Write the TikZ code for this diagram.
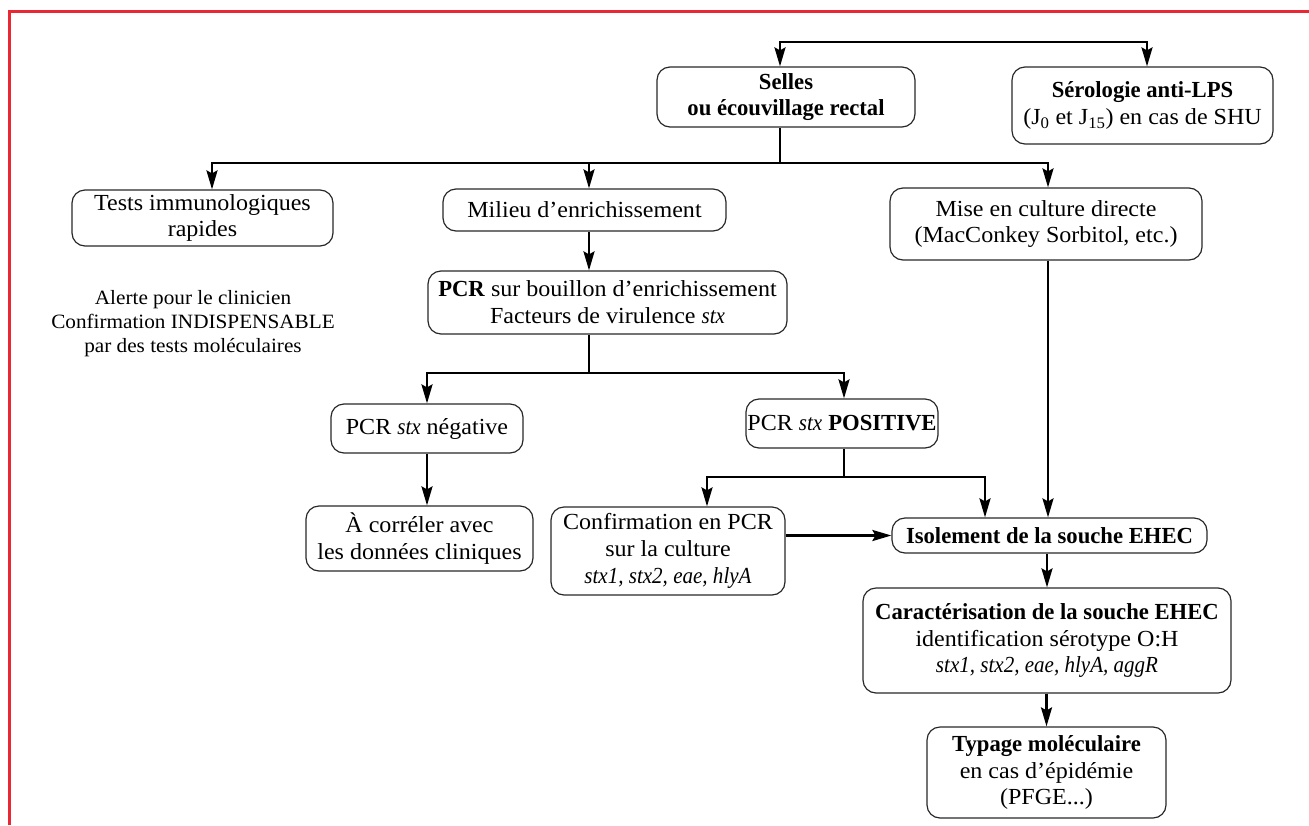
\documentclass[tikz,border=0pt]{standalone}
\usepackage{fontspec}
\setmainfont{Liberation Serif}[
  UprightFeatures={FakeStretch=1.045},
  BoldFeatures={FakeStretch=0.985},
  ItalicFeatures={FakeStretch=0.915}]
\usetikzlibrary{arrows.meta}
\definecolor{framered}{RGB}{234,40,52}
\definecolor{boxline}{RGB}{40,40,40}
\tikzset{
  box/.style={draw=boxline, line width=1.2pt, rounded corners=13pt, align=center, inner sep=0pt,
    font=\fontsize{23}{26.8}\selectfont},
  plain/.style={align=center, inner sep=0pt, font=\fontsize{20.3}{24}\selectfont},
  conn/.style={line width=2.4pt, line join=miter},
  arr/.style={conn, -{Stealth[length=19pt,width=11pt,inset=3pt]}},
  redframe/.style={draw=framered, line width=3pt}
}
\begin{document}
\begin{tikzpicture}[x=1pt,y=-1pt]
\useasboundingbox (0,0) rectangle (1309,825);
\draw[redframe] (9.5,825) -- (9.5,11.5) -- (1309,11.5);

\node[box, minimum width=258pt, minimum height=60pt] (selles) at (786,97) {\textbf{Selles}\\\textbf{ou écouvillage rectal}};
\node[box, minimum width=261pt, minimum height=77pt] (sero) at (1142.5,105.5) {\textbf{Sérologie anti-LPS}\\(J\textsubscript{0} et J\textsubscript{15}) en cas de SHU};
\node[box, minimum width=261pt, minimum height=56pt] (tests) at (202.5,218) {Tests immunologiques\\rapides};
\node[box, minimum width=283pt, minimum height=42pt] (milieu) at (584.5,210) {Milieu d’enrichissement};
\node[box, minimum width=359pt, minimum height=63pt] (pcrb) at (607.5,302.5) {\textbf{PCR} sur bouillon d’enrichissement\\Facteurs de virulence \textit{stx}};
\node[box, minimum width=312pt, minimum height=72pt] (mise) at (1046,224) {Mise en culture directe\\(MacConkey Sorbitol, etc.)};
\node[plain] (alerte) at (193,324) {Alerte pour le clinicien\\Confirmation INDISPENSABLE\\par des tests moléculaires};
\node[box, minimum width=192pt, minimum height=49pt] (neg) at (427,428.5) {PCR \textit{stx} négative};
\node[box, minimum width=192pt, minimum height=49pt] (pos) at (842,423.5) {PCR \textit{stx} \textbf{POSITIVE}};
\node[box, minimum width=227pt, minimum height=65pt] (corr) at (419.5,538.5) {À corréler avec\\les données cliniques};
\node[box, minimum width=234pt, minimum height=88pt] (conf) at (668,551) {Confirmation en PCR\\sur la culture\\\textit{stx1, stx2, eae, hlyA}};
\node[box, minimum width=315pt, minimum height=35pt] (iso) at (1049.5,535.5) {\textbf{Isolement de la souche EHEC}};
\node[box, minimum width=368pt, minimum height=105pt] (cara) at (1047,640.5) {\textbf{Caractérisation de la souche EHEC}\\identification sérotype O:H\\\textit{stx1, stx2, eae, hlyA, aggR}};
\node[box, minimum width=239pt, minimum height=91pt] (typ) at (1046.5,772.5) {\textbf{Typage moléculaire}\\en cas d’épidémie\\(PFGE...)};

% top bracket
\coordinate (tb1) at (780,42);
\coordinate (tb2) at (1147,42);
\draw[arr] (tb2) -- (tb1) -- (tb1 |- selles.north);
\draw[arr] (tb1) -- (tb2) -- (tb2 |- sero.north);

% from Selles
\coordinate (s1) at (780,163);
\coordinate (hL) at (212,163);
\coordinate (hM) at (589,163);
\coordinate (hR) at (1048,163);
\draw[conn] (selles.south -| s1) -- (s1);
\draw[arr] (s1) -- (hL) -- (hL |- tests.north);
\draw[arr] (s1) -- (hR) -- (hR |- mise.north);
\draw[arr] (hM) -- (hM |- milieu.north);

% enrichment chain
\draw[arr] (milieu.south -| hM) -- (pcrb.north -| hM);
\coordinate (p1) at (589,373);
\coordinate (pL) at (427,373);
\coordinate (pR) at (844,373);
\draw[conn] (pcrb.south -| p1) -- (p1);
\draw[arr] (p1) -- (pL) -- (pL |- neg.north);
\draw[arr] (p1) -- (pR) -- (pR |- pos.north);
\draw[arr] (neg.south -| pL) -- (corr.north -| pL);

% positive branch
\coordinate (q1) at (844,477);
\coordinate (qL) at (707,477);
\coordinate (qR) at (985,477);
\draw[conn] (pos.south -| q1) -- (q1);
\draw[arr] (q1) -- (qL) -- (qL |- conf.north);
\draw[arr] (q1) -- (qR) -- (qR |- iso.north);

% direct culture
\draw[arr] (mise.south -| hR) -- (iso.north -| hR);
\draw[arr] (conf.east |- iso.west) -- (iso.west);
\draw[arr] (cara.north |- iso.south) -- (cara.north);
\draw[arr] (typ.north |- cara.south) -- (typ.north);
\end{tikzpicture}
\end{document}
